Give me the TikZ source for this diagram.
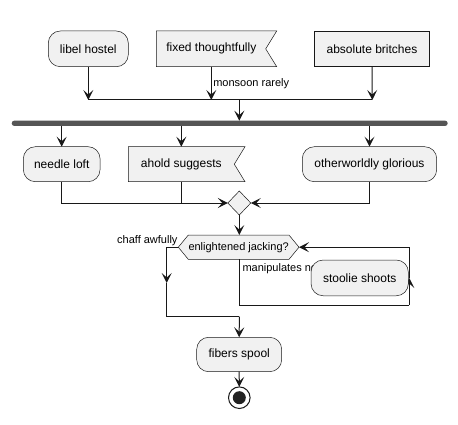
\documentclass[tikz,border=0pt]{standalone}
\usepackage{fontspec}
\setmainfont{Liberation Sans}
\usetikzlibrary{arrows.meta}
\definecolor{boxfill}{HTML}{F1F1F1}
\definecolor{boxline}{HTML}{181818}
\definecolor{barcol}{HTML}{555555}
\definecolor{endcol}{HTML}{222222}
\begin{document}
\begin{tikzpicture}[x=1pt,y=-1pt,
  every node/.style={inner sep=0pt, outer sep=0pt},
  rbox/.style={draw=boxline, line width=0.5pt, fill=boxfill, rounded corners=12pt, font=\fontsize{12}{14}\selectfont, minimum height=35.7pt},
  ghost/.style={draw=none, minimum height=35.7pt, font=\fontsize{12}{14}\selectfont},
  shapeline/.style={draw=boxline, line width=0.5pt, fill=boxfill},
  lbl/.style={font=\fontsize{11}{13}\selectfont},
  conn/.style={draw=boxline, line width=1pt},
  arr/.style={conn, -{Stealth[length=10pt,width=10pt,inset=4.5pt]}}
]
\useasboundingbox (0,0) rectangle (458,425);

% top row
\node[rbox, minimum width=80pt] (libel) at (88.3,48.85) {libel hostel};
\node[ghost, minimum width=120.4pt] (fixed) at (216.5,48.85) {};
\draw[shapeline] (fixed.north west) -- (fixed.north east) -- ([xshift=-11pt]fixed.east) -- (fixed.south east) -- (fixed.south west) -- cycle;
\node[font=\fontsize{12}{14}\selectfont] (fixedtxt) at (211.3,48.85) {fixed thoughtfully};
\node[shapeline, minimum width=115.4pt, minimum height=35.7pt, font=\fontsize{12}{14}\selectfont] (absol) at (372,48.85) {absolute britches};

\coordinate (j1) at (88.3,100);
\coordinate (f1) at (211.3,66.7);
\coordinate (j2) at (211.3,100);
\coordinate (j3) at (372.3,100);
\coordinate (jm) at (239.3,100);

\draw[arr] (libel.south) -- (j1);
\draw[arr] (f1) -- (j2) node[lbl, anchor=west, pos=0.5, xshift=2pt] (monsoon) {monsoon rarely};
\draw[arr] (absol.south) -- (j3);
\draw[conn] (j1) -- (j3);

% bar
\node[fill=barcol, rounded corners=2.6pt, minimum width=436pt, minimum height=5.3pt] (bar) at (229.7,123.3) {};
\draw[arr] (jm) -- (bar.north -| jm);

% second row
\node[rbox, minimum width=76.7pt, minimum height=35pt] (needle) at (61.7,164.2) {needle loft};
\node[ghost, minimum width=116.7pt, minimum height=35pt] (ahold) at (186.65,164.2) {};
\draw[shapeline] (ahold.north west) -- (ahold.north east) -- ([xshift=-10.7pt]ahold.east) -- (ahold.south east) -- (ahold.south west) -- cycle;
\node[font=\fontsize{12}{14}\selectfont] (aholdtxt) at (181.3,164.2) {ahold suggests};
\node[rbox, minimum width=134.4pt, minimum height=35pt] (other) at (369.5,164.2) {otherworldly glorious};

\coordinate (a1) at (181.3,126);
\coordinate (a2) at (181.3,146.7);
\draw[arr] (bar.south -| needle) -- (needle.north);
\draw[arr] (a1) -- (a2);
\draw[arr] (bar.south -| other) -- (other.north);

% merge diamond
\node[minimum width=0pt, minimum height=0pt] (dia) at (239.3,203) {};
\path (dia) ++(-11.5,0) coordinate (dw) ++(11.5,-12) coordinate (dn) ++(11.5,12) coordinate (de) ++(-11.5,12) coordinate (ds);
\draw[shapeline] (dw) -- (dn) -- (de) -- (ds) -- cycle;

\coordinate (nb) at (61.7,203);
\coordinate (ab) at (181.3,203);
\coordinate (ob) at (369.5,203);
\draw[conn] (needle.south) -- (nb) -- (ab);
\draw[conn] (ahold.south -| ab) -- (ab);
\draw[arr] (ab) -- (dw);
\draw[arr] (other.south) -- (ob) -- (de);

% hexagon
\node[draw=none, minimum width=120.7pt, minimum height=24.3pt] (hex) at (238.65,247.2) {};
\draw[shapeline] (hex.west) -- ([xshift=10pt]hex.north west) -- ([xshift=-10pt]hex.north east) -- (hex.east) -- ([xshift=-10pt]hex.south east) -- ([xshift=10pt]hex.south west) -- cycle;
\node[lbl] (hextxt) at (238.65,247.2) {enlightened jacking?};
\draw[arr] (ds) -- (hex.north -| ds);

\node[lbl, anchor=east] (chaff) at (177.5,241) {chaff awfully};
\node[lbl, anchor=west] (manip) at (242.5,268.5) {manipulates no};

% left branch
\coordinate (l1) at (166.7,247.2);
\coordinate (l2) at (166.7,283);
\coordinate (l3) at (166.7,316.7);
\coordinate (l4) at (239.3,316.7);
\draw[conn] (hex.west) -- (l1);
\draw[arr] (l1) -- (l2);
\draw[conn] (l2) -- (l3) -- (l4);

% loop
\coordinate (r0) at (239.3,259.35);
\coordinate (r1) at (239.3,305);
\coordinate (r2) at (409.3,305);
\coordinate (r3) at (409.3,278);
\coordinate (r4) at (409.3,247.2);
\draw[conn] (r0) -- (r1) -- (r2);
\draw[arr] (r2) -- (r3);
\draw[arr] (r3) -- (r4) -- (hex.east);

\node[rbox, minimum width=97.3pt] (stoolie) at (359.7,277.9) {stoolie shoots};

% end
\node[rbox, minimum width=85pt, minimum height=34.4pt] (fibers) at (239.2,354.5) {fibers spool};
\draw[arr] (l4) -- (fibers.north);
\node[circle, draw=boxline, line width=1pt, fill=white, minimum size=21.6pt] (endc) at (239.3,397.7) {};
\node[circle, fill=endcol, minimum size=13pt] (endin) at (endc) {};
\draw[arr] (fibers.south) -- (endc.north);
\end{tikzpicture}
\end{document}
